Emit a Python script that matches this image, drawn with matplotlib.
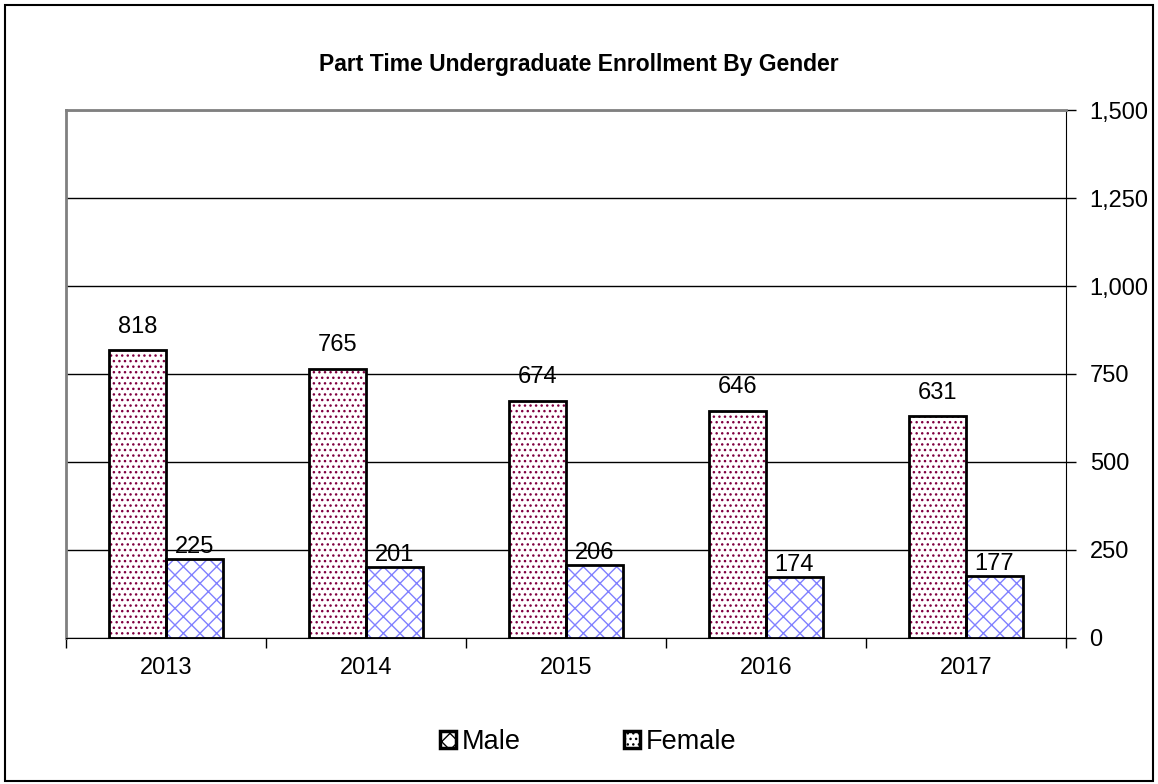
import matplotlib.pyplot as plt
import numpy as np
from matplotlib.patches import Patch

years = ["2013", "2014", "2015", "2016", "2017"]
female = [818, 765, 674, 646, 631]
male = [225, 201, 206, 174, 177]

plt.rcParams["font.family"] = ["Liberation Sans", "DejaVu Sans"]
plt.rcParams["hatch.linewidth"] = 1.0

fig = plt.figure(figsize=(11.58, 7.84), dpi=100)
ax = fig.add_axes([66 / 1158, 1 - 638 / 784, 1000 / 1158, 528 / 784])

x = np.arange(len(years))
w = 0.285
dot_col = "#800040"
cross_col = "#8080ff"

# hatched fill first, then black outlines on top
ax.bar(x - w / 2, female, w, color="white", edgecolor=dot_col, hatch="...", linewidth=0, zorder=2)
ax.bar(x + w / 2, male, w, color="white", edgecolor=cross_col, hatch="xx", linewidth=0, zorder=2)
ax.bar(x - w / 2, female, w, fill=False, edgecolor="black", linewidth=2, zorder=3)
ax.bar(x + w / 2, male, w, fill=False, edgecolor="black", linewidth=2, zorder=3)

for xi, v in zip(x - w / 2, female):
    ax.text(xi, v + 35, str(v), ha="center", va="bottom", fontsize=17)
for xi, v in zip(x + w / 2, male):
    ax.text(xi, v + 3, str(v), ha="center", va="bottom", fontsize=17)

ax.set_xlim(-0.5, len(years) - 0.5)
ax.set_ylim(0, 1500)
ax.set_yticks([0, 250, 500, 750, 1000, 1250, 1500])
ax.set_yticklabels(["0", "250", "500", "750", "1,000", "1,250", "1,500"], fontsize=17)
ax.yaxis.tick_right()
ax.tick_params(axis="y", direction="out", length=7, width=1, pad=10)
ax.grid(axis="y", color="black", linewidth=1, zorder=0)

ax.set_xticks(np.arange(-0.5, len(years)), minor=False)
ax.set_xticklabels([""] * (len(years) + 1))
ax.set_xticks(x, minor=True)
ax.set_xticklabels(years, minor=True, fontsize=17)
ax.tick_params(axis="x", which="major", direction="out", length=7, width=1)
ax.tick_params(axis="x", which="minor", length=0, pad=14)

for s in ["left", "top"]:
    ax.spines[s].set_color("#808080")
    ax.spines[s].set_linewidth(2)
ax.spines["right"].set_color("black")
ax.spines["bottom"].set_color("black")

fig.text(0.5, 1 - 65 / 784, "Part Time Undergraduate Enrollment By Gender",
         ha="center", va="center", fontsize=16.5, fontweight="bold")

# legend
handles = [
    Patch(facecolor="white", edgecolor=cross_col, hatch="xx", linewidth=0),
    Patch(facecolor="white", edgecolor=dot_col, hatch="...", linewidth=0),
]
leg = fig.legend(handles, ["Male", "Female"], loc="center", bbox_to_anchor=(588 / 1158, 1 - 742 / 784),
                 ncol=2, frameon=False, fontsize=19.5, handlelength=0.6, handleheight=0.6,
                 handletextpad=0.2, columnspacing=3.8)
for p in leg.get_patches():
    p.set_linewidth(2.5)
    p.set_edgecolor("black")

# outer chart border
fig.patches.append(plt.Rectangle((5 / 1158, 3 / 784), 1148 / 1158, 776 / 784, transform=fig.transFigure,
                                 fill=False, edgecolor="black", linewidth=1.5))

fig.savefig("out.png", dpi=100)
